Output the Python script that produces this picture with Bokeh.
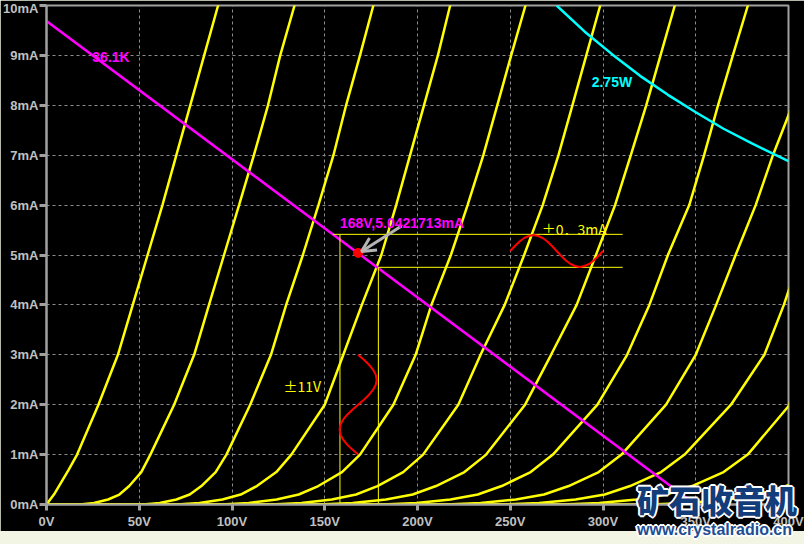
from bokeh.plotting import figure
from bokeh.layouts import column
from bokeh.models import (Range1d, FixedTicker, PrintfTickFormatter, Label, Arrow, OpenHead,
                          GlobalInlineStyleSheet, Div)
from bokeh.embed import file_html
from bokeh.resources import INLINE

# ---------------- data (plate voltage V, plate current mA) ----------------
x_ticks = [0, 50, 100, 150, 200, 250, 300, 350, 400]
y_ticks = [0, 1, 2, 3, 4, 5, 6, 7, 8, 9, 10]

a_v = [0, 4, 8, 12, 16.5, 28, 38.5, 46.5, 54.5, 62.5, 70, 77.5, 85, 92.5, 97]
a_ma = [0, 0.2, 0.45, 0.7, 1, 2, 3, 4, 5, 6, 7, 8, 9, 10, 10.6]

full_ma = [0, 0, 0.03, 0.1, 0.2, 0.37, 0.65, 1, 2, 3, 4, 5, 6, 7, 8, 9, 10, 10.6]
b_v = [0, 18, 25.6, 33.2, 39.3, 44.6, 51.1, 56, 68.8, 79.6, 87.6, 95.7, 103.8, 111.8, 119.4, 126, 133.7, 138]
c_v = [0, 52, 61, 70, 77.2, 83.5, 91.2, 97, 109.8, 121, 129.2, 138.2, 146.6, 154.7, 161.5, 169, 176.2, 180.5]
d_v = [0, 70, 82.4, 94.8, 104.7, 113.4, 123.9, 132, 150, 160, 170, 180.5, 188.5, 196, 203.5, 211, 217.6, 222]
e_v = [0, 94, 109, 124, 136, 146.5, 159.3, 169, 187, 199, 207.5, 218, 227, 235.5, 243, 250.5, 258.2, 262.5]
f_v = [0, 121, 137.4, 153.8, 166.9, 178.4, 192.3, 203, 222, 234, 247, 257.5, 267.5, 276, 283.5, 291, 298.5, 303]
g_v = [0, 147, 165, 183, 197.4, 210, 225.3, 237, 258, 272, 285.8, 296.2, 306.5, 315, 323.3, 331, 338.7, 343]
h_v = [0, 181, 199.4, 217.8, 232.5, 245.4, 261, 273, 297, 313, 325, 335, 346.5, 354.5, 362, 370, 378.1, 382.5]

i_v = [0, 215, 234, 253, 268.2, 281.5, 297.7, 310, 334, 350, 361, 371.5, 382.3, 391.6, 400, 406]
i_ma = [0, 0, 0.03, 0.1, 0.2, 0.37, 0.65, 1, 2, 3, 4, 5, 6, 7, 7.8, 8.5]
j_v = [0, 246, 265.6, 285.2, 300.9, 314.6, 331.3, 344, 369, 387, 397.5, 402]
j_ma = [0, 0, 0.03, 0.1, 0.2, 0.37, 0.65, 1, 2, 3, 4, 4.5]
k_v = [0, 278, 298, 318, 334, 348, 365, 378, 400, 404]
k_ma = [0, 0, 0.03, 0.1, 0.2, 0.37, 0.65, 1, 1.97, 2.4]
l_v = [0, 325, 346, 367, 383.8, 398.5, 405]
l_ma = [0, 0, 0.03, 0.1, 0.2, 0.37, 0.45]

# load line 36.1K
load_v = [0, 349.8]
load_ma = [9.69, 0]
load_k = 36.1
supply_v = 349.8

# 2.75 W dissipation curve
power_v = [275, 290, 305, 320, 335, 350, 365, 380, 400]
power_ma = [10.0, 9.48, 9.02, 8.59, 8.21, 7.86, 7.53, 7.24, 6.88]

# operating point and swings
op_v = 168
op_ma = 5.0421713
v_lo, v_hi = 158.2, 178.9
ma_hi, ma_lo = 5.414, 4.753
guide_end_v = 310.6

# red signal sketches
vsig_ma = [3.0, 2.9, 2.8, 2.7, 2.6, 2.5, 2.4, 2.3, 2.2, 2.1, 2.0, 1.9, 1.8, 1.7, 1.6, 1.5, 1.4, 1.3, 1.2, 1.1, 1.0]
vsig_v = [168, 171.1, 173.9, 176.1, 177.5, 178, 177.5, 176.1, 173.9, 171.1, 168, 164.9, 162.1, 159.9, 158.5, 158, 158.5, 159.9, 162.1, 164.9, 168]
isig_v = [250, 252.5, 255, 257.5, 260, 262.5, 265, 267.5, 270, 272.5, 275, 277.5, 280, 282.5, 285, 287.5, 290, 292.5, 295, 297.5, 300]
isig_ma = [5.08, 5.18, 5.27, 5.34, 5.38, 5.40, 5.38, 5.34, 5.27, 5.18, 5.08, 4.98, 4.89, 4.82, 4.78, 4.76, 4.78, 4.82, 4.89, 4.98, 5.08]

# ---------------- figure ----------------
fig = figure(width=804, height=531, x_range=Range1d(0, 400), y_range=Range1d(0, 10),
             output_backend="svg", toolbar_location=None,
             min_border_left=44, min_border_right=16, min_border_top=5, min_border_bottom=26,
             background_fill_color="black", border_fill_color="black")
fig.outline_line_color = "#a0a0a0"
fig.outline_line_width = 2

fig.xaxis.ticker = FixedTicker(ticks=x_ticks)
fig.yaxis.ticker = FixedTicker(ticks=y_ticks)
fig.xaxis.formatter = PrintfTickFormatter(format="%dV")
fig.yaxis.formatter = PrintfTickFormatter(format="%dmA")
fig.axis.axis_line_color = "#a0a0a0"
fig.axis.axis_line_width = 2
fig.axis.major_tick_line_color = "#a0a0a0"
fig.axis.major_tick_line_width = 3
fig.axis.major_tick_in = 0
fig.yaxis.major_tick_out = 7
fig.xaxis.major_tick_out = 6
fig.axis.minor_tick_line_color = None
fig.axis.major_label_text_font = "Liberation Sans"
fig.axis.major_label_text_font_style = "bold"
fig.axis.major_label_text_font_size = "13px"
fig.axis.major_label_text_color = "#c0c0c0"
fig.yaxis.major_label_standoff = 1
fig.xaxis.major_label_standoff = 3

fig.grid.grid_line_color = "#8c8c8c"
fig.grid.grid_line_dash = "3 3"
fig.grid.grid_line_width = 1

yellow = "#ffff00"
fig.line(a_v, a_ma, color=yellow, line_width=2.5)
for cv in (b_v, c_v, d_v, e_v, f_v, g_v, h_v):
    fig.line(cv, full_ma, color=yellow, line_width=2.5)
fig.line(i_v, i_ma, color=yellow, line_width=2.5)
fig.line(j_v, j_ma, color=yellow, line_width=2.5)
fig.line(k_v, k_ma, color=yellow, line_width=2.5)
fig.line(l_v, l_ma, color=yellow, line_width=2.5)

fig.line(load_v, load_ma, color="#ff00ff", line_width=2.5)
fig.line(power_v, power_ma, color="#00ffff", line_width=2.5)

# swing guides
fig.segment(x0=[supply_v - ma_hi * load_k, v_hi, v_lo, v_hi],
            y0=[ma_hi, ma_lo, ma_hi, ma_lo],
            x1=[guide_end_v, guide_end_v, v_lo, v_hi],
            y1=[ma_hi, ma_lo, 0, 0], color=yellow, line_width=1)

fig.line(vsig_v, vsig_ma, color="#ff0000", line_width=2)
fig.line(isig_v, isig_ma, color="#ff0000", line_width=2)
fig.scatter([op_v], [op_ma], size=9, color="#ff0000")

fig.add_layout(Arrow(end=OpenHead(size=14, line_color="#b4b4b4", line_width=3),
                     x_start=191.4, y_start=5.58, x_end=169.8, y_end=5.07,
                     line_color="#b4b4b4", line_width=3))

def lab(x, y, text, color, font="Liberation Sans", size="14px", style="bold", baseline="alphabetic"):
    fig.add_layout(Label(x=x, y=y, text=text, text_color=color, text_font=font,
                         text_font_size=size, text_font_style=style, text_baseline=baseline))

lab(24.7, 8.966, "36.1K", "#ff00ff")
lab(293.9, 8.466, "2.75W", "#00ffff")
lab(158.2, 5.634, "168V,5.0421713mA", "#ff00ff")
lab(267.0, 5.514, "±0．3mA", yellow, font="Noto Sans CJK SC", size="14px", style="normal")
lab(127.8, 2.367, "±11V", yellow, font="Noto Sans CJK SC", size="14px", style="normal")

# site watermark laid over the lower right corner
outline = "-1px -1px 0 #fff, 1px -1px 0 #fff, -1px 1px 0 #fff, 1px 1px 0 #fff, 0 2px 0 #fff, 2px 0 0 #fff, -2px 0 0 #fff, 0 -2px 0 #fff"
wm = Div(text=('<div style="font-family:\'Noto Sans CJK SC\';font-weight:900;font-size:32px;'
               'line-height:32px;color:#123d7a;white-space:nowrap;text-shadow:' + outline + '">矿石收音机</div>'
               '<div style="font-family:\'Liberation Sans\';font-weight:bold;font-size:16px;line-height:16px;'
               'color:#1d4e94;white-space:nowrap;margin-top:7px;text-shadow:' + outline + '">www.crystalradio.cn</div>'),
         width=170, height=60,
         styles={"position": "absolute", "left": "637px", "top": "483px", "z-index": "10",
                 "pointer-events": "none", "margin": "0"})

p = column(fig, wm)
p.stylesheets = [GlobalInlineStyleSheet(css="html, body {margin:0 !important; padding:0; background:#f2f4e4; overflow:hidden;}")]

open("out.html", "w").write(file_html(p, INLINE))
